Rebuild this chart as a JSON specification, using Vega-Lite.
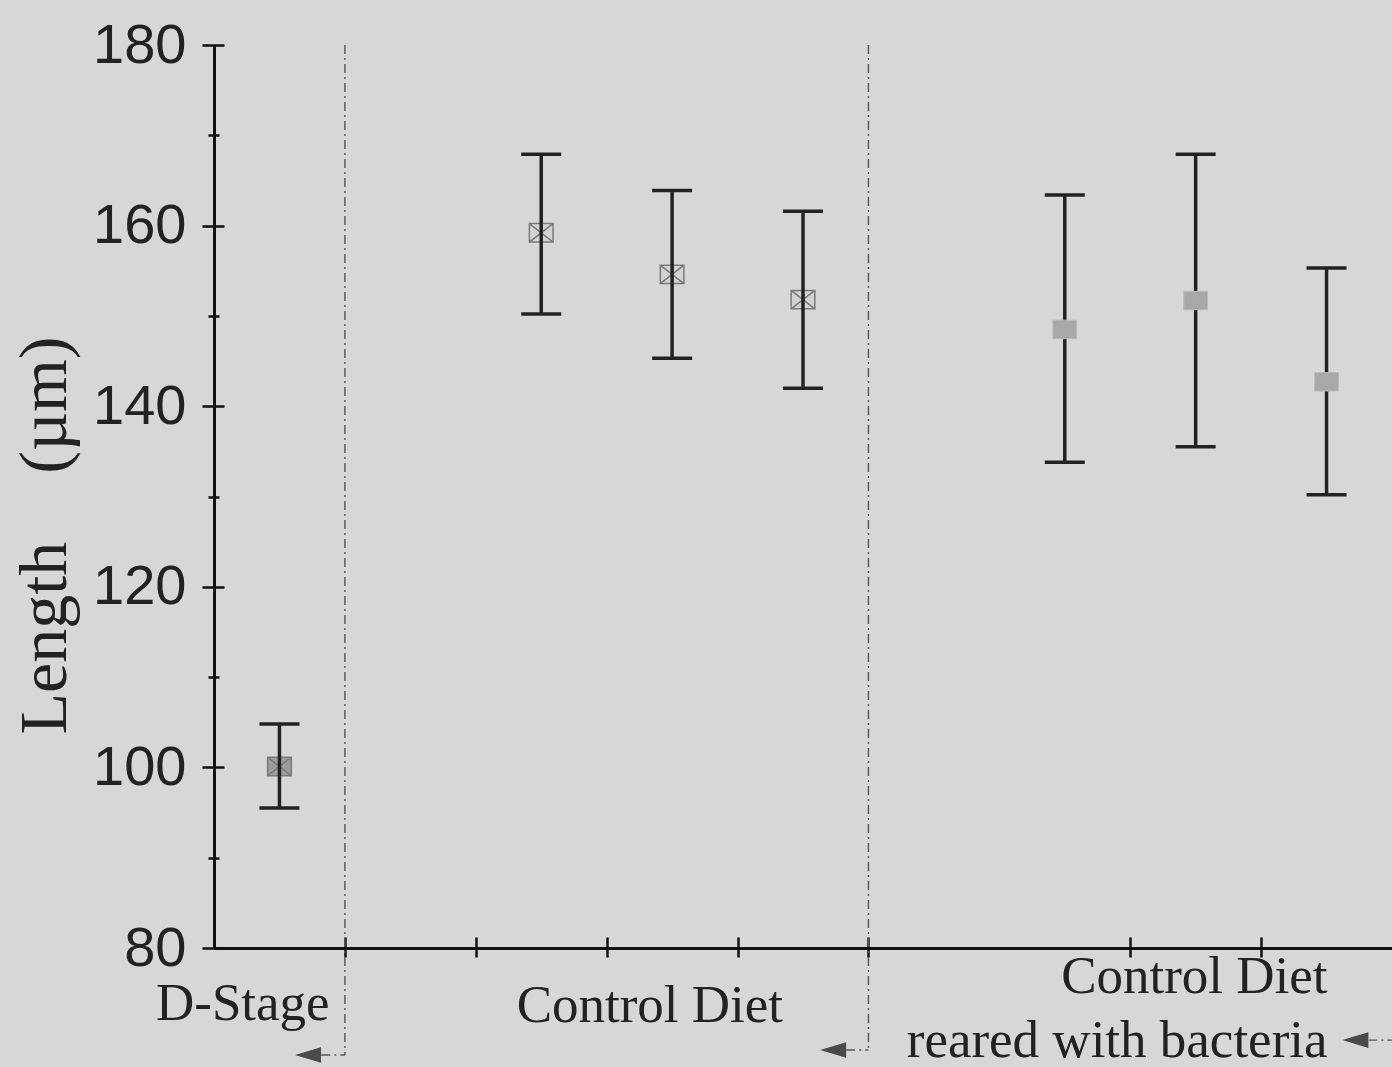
{
  "$schema": "https://vega.github.io/schema/vega-lite/v6.json",
  "width": 1178,
  "height": 903,
  "autosize": {"type": "none"},
  "padding": {"left": 214, "top": 45, "right": 0, "bottom": 119},
  "background": "#d7d7d7",
  "config": {"view": {"stroke": null}, "axis": {"grid": false}},
  "datasets": {
    "stats": [
      {"group": "D-Stage", "x": 0.5, "mean": 100.1, "lo": 95.5, "hi": 104.8},
      {"group": "Control", "x": 2.5, "mean": 159.2, "lo": 150.2, "hi": 167.9},
      {"group": "Control", "x": 3.5, "mean": 154.6, "lo": 145.3, "hi": 163.9},
      {"group": "Control", "x": 4.5, "mean": 151.8, "lo": 142.0, "hi": 161.6},
      {"group": "Bacteria", "x": 6.5, "mean": 148.5, "lo": 133.8, "hi": 163.4},
      {"group": "Bacteria", "x": 7.5, "mean": 151.7, "lo": 135.5, "hi": 167.9},
      {"group": "Bacteria", "x": 8.5, "mean": 142.7, "lo": 130.2, "hi": 155.3}
    ],
    "guides": [
      {"x": 1, "x2": 1, "y": 180, "y2": 68.15},
      {"x": 0.82, "x2": 1, "y": 68.15, "y2": 68.15},
      {"x": 5, "x2": 5, "y": 180, "y2": 68.7},
      {"x": 4.83, "x2": 5, "y": 68.7, "y2": 68.7},
      {"x": 8.82, "x2": 9, "y": 69.8, "y2": 69.8}
    ],
    "arrows": [
      {"x": 0.718, "y": 68.15},
      {"x": 4.73, "y": 68.7},
      {"x": 8.72, "y": 69.8}
    ],
    "labels": [
      {"label": "D-Stage", "x": 0.22, "y": 72.0},
      {"label": "Control Diet", "x": 3.33, "y": 71.8},
      {"label": "Control Diet", "x": 7.49, "y": 75.0},
      {"label": "reared with bacteria", "x": 6.9, "y": 67.9}
    ]
  },
  "resolve": {"axis": {"x": "independent", "y": "independent"}},
  "layer": [
    {
      "data": {"name": "guides"},
      "mark": {"type": "rule", "color": "#555555", "strokeWidth": 1.4, "strokeDash": [9, 4, 2, 4]},
      "encoding": {
        "x": {"field": "x", "type": "quantitative", "scale": {"domain": [0, 9], "nice": false, "zero": false},
          "axis": {"orient": "bottom", "values": [1, 2, 3, 4, 5, 7, 8], "tickSize": 9, "tickWidth": 2.5, "tickColor": "#111111", "domainColor": "#111111", "domainWidth": 3, "labels": false, "title": null,
            "encoding": {"ticks": {"y": {"value": -11}}}}},
        "x2": {"field": "x2"},
        "y": {"field": "y", "type": "quantitative", "scale": {"domain": [80, 180], "nice": false, "zero": false},
          "axis": {"orient": "left", "values": [80, 100, 120, 140, 160, 180], "tickSize": 12, "tickWidth": 2.5, "tickColor": "#111111", "domainColor": "#111111", "domainWidth": 3,
            "labelFont": "Liberation Sans", "labelFontSize": 56, "labelColor": "#222222", "labelPadding": 16,
            "title": "Length\u00a0\u00a0\u00a0\u00a0(µm)", "titleFont": "Liberation Serif", "titleFontSize": 68, "titleFontWeight": "normal", "titleColor": "#222222",
            "titleAngle": -90, "titleX": -149, "titleY": 490, "titleAlign": "center", "titleBaseline": "alphabetic",
            "encoding": {"ticks": {"x": {"value": 10}}}}},
        "y2": {"field": "y2"}
      }
    },
    {
      "data": {"name": "stats"},
      "transform": [{"filter": "datum.group !== 'Bacteria'"}],
      "mark": {"type": "point", "shape": "M-1,-0.78H1V0.78H-1Z M-1,-0.78L1,0.78 M1,-0.78L-1,0.78", "size": 560, "filled": true, "stroke": "#7a7a7a", "strokeWidth": 1.5, "opacity": 1},
      "encoding": {
        "x": {"field": "x", "type": "quantitative", "scale": {"domain": [0, 9], "nice": false, "zero": false}, "axis": null},
        "y": {"field": "mean", "type": "quantitative", "scale": {"domain": [80, 180], "nice": false, "zero": false},
          "axis": {"orient": "left", "values": [90, 110, 130, 150, 170], "tickSize": 6, "tickWidth": 2.5, "tickColor": "#111111", "domain": false, "labels": false, "title": null,
            "encoding": {"ticks": {"x": {"value": 5}}}}},
        "fill": {"field": "group", "type": "nominal", "scale": {"domain": ["D-Stage", "Control"], "range": ["#9c9c9c", "#d3d3d3"]}, "legend": null}
      }
    },
    {
      "data": {"name": "stats"},
      "mark": {"type": "rule", "color": "#222222", "strokeWidth": 3.5},
      "encoding": {
        "x": {"field": "x", "type": "quantitative", "scale": {"domain": [0, 9], "nice": false, "zero": false}, "axis": null},
        "y": {"field": "lo", "type": "quantitative", "scale": {"domain": [80, 180], "nice": false, "zero": false}, "axis": null},
        "y2": {"field": "hi"}
      }
    },
    {
      "data": {"name": "stats"},
      "mark": {"type": "tick", "orient": "horizontal", "size": 40, "thickness": 3.5, "color": "#222222", "opacity": 1},
      "encoding": {
        "x": {"field": "x", "type": "quantitative", "scale": {"domain": [0, 9], "nice": false, "zero": false}, "axis": null},
        "y": {"field": "lo", "type": "quantitative", "scale": {"domain": [80, 180], "nice": false, "zero": false}, "axis": null}
      }
    },
    {
      "data": {"name": "stats"},
      "mark": {"type": "tick", "orient": "horizontal", "size": 40, "thickness": 3.5, "color": "#222222", "opacity": 1},
      "encoding": {
        "x": {"field": "x", "type": "quantitative", "scale": {"domain": [0, 9], "nice": false, "zero": false}, "axis": null},
        "y": {"field": "hi", "type": "quantitative", "scale": {"domain": [80, 180], "nice": false, "zero": false}, "axis": null}
      }
    },
    {
      "data": {"name": "stats"},
      "transform": [{"filter": "datum.group === 'Bacteria'"}],
      "mark": {"type": "point", "shape": "M-1,-0.78H1V0.78H-1Z", "size": 560, "filled": true, "fill": "#a8a8a8", "stroke": "#b9b9b9", "strokeWidth": 1, "opacity": 1},
      "encoding": {
        "x": {"field": "x", "type": "quantitative", "scale": {"domain": [0, 9], "nice": false, "zero": false}, "axis": null},
        "y": {"field": "mean", "type": "quantitative", "scale": {"domain": [80, 180], "nice": false, "zero": false}, "axis": null}
      }
    },
    {
      "data": {"name": "arrows"},
      "mark": {"type": "point", "shape": "M-1,0L1,-0.6L1,0.6Z", "size": 676, "filled": true, "fill": "#4a4a4a", "strokeWidth": 0, "opacity": 1},
      "encoding": {
        "x": {"field": "x", "type": "quantitative", "scale": {"domain": [0, 9], "nice": false, "zero": false}, "axis": null},
        "y": {"field": "y", "type": "quantitative", "scale": {"domain": [80, 180], "nice": false, "zero": false}, "axis": null}
      }
    },
    {
      "data": {"name": "labels"},
      "mark": {"type": "text", "font": "Liberation Serif", "fontSize": 53, "color": "#222222", "align": "center", "baseline": "alphabetic"},
      "encoding": {
        "x": {"field": "x", "type": "quantitative", "scale": {"domain": [0, 9], "nice": false, "zero": false}, "axis": null},
        "y": {"field": "y", "type": "quantitative", "scale": {"domain": [80, 180], "nice": false, "zero": false}, "axis": null},
        "text": {"field": "label"}
      }
    }
  ]
}
